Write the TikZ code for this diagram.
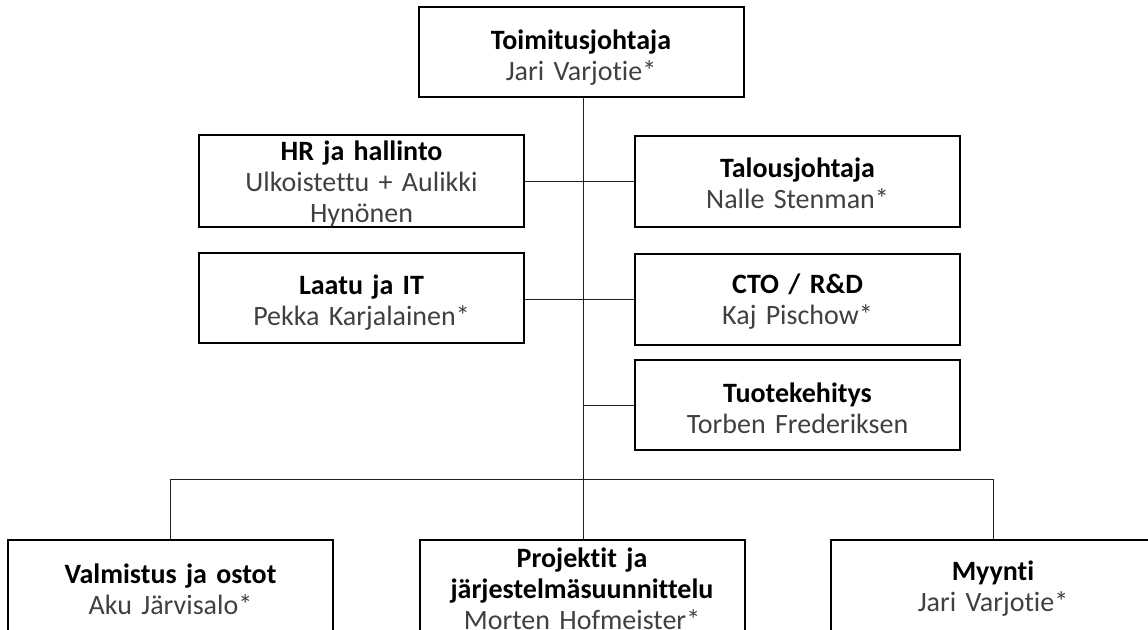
\documentclass[tikz,border=0pt]{standalone}
\usepackage{fontspec}
\setmainfont{Carlito}[Ligatures={NoCommon,NoContextual}]
\definecolor{nametext}{HTML}{404040}
\definecolor{linecol}{HTML}{202020}
\begin{document}
\begin{tikzpicture}[x=1pt,y=-1pt,
  orgbox/.style={draw=black,line width=2pt,rectangle,inner sep=0pt,
    minimum width=325pt,minimum height=91pt,text width=320pt,align=center,
    font=\fontsize{28}{31}\selectfont},
  conn/.style={draw=linecol,line width=1pt}]
\clip (0,0) rectangle (1148,629);
\useasboundingbox (0,0) rectangle (1148,629);
\newcommand{\ttl}[1]{\textbf{#1}}
\newcommand{\nm}[1]{\textcolor{nametext}{#1}}
\newcommand{\lift}[1]{\rule{0pt}{#1}}
\node[orgbox,minimum height=90pt] (ceo) at (581,52) {\lift{30pt}\ttl{Toimitusjohtaja}\\\nm{Jari Varjotie*}};
\node[orgbox] (hr) at (361.5,181) {\lift{26pt}\ttl{HR ja hallinto}\\\nm{Ulkoistettu + Aulikki}\\\nm{Hynönen}};
\node[orgbox] (cfo) at (797.5,181) {\lift{24pt}\ttl{Talousjohtaja}\\\nm{Nalle Stenman*}};
\node[orgbox,minimum height=90pt] (qa) at (361.5,298) {\lift{29pt}\ttl{Laatu ja IT}\\\nm{Pekka Karjalainen*}};
\node[orgbox] (cto) at (797.5,299) {\lift{24pt}\ttl{CTO / R\&D}\\\nm{Kaj Pischow*}};
\node[orgbox,minimum height=90pt] (rd) at (797.5,405) {\lift{26pt}\ttl{Tuotekehitys}\\\nm{Torben Frederiksen}};
\node[orgbox,minimum height=98pt,anchor=north] (prod) at (170.5,539) {\ttl{Valmistus ja ostot}\\\nm{Aku Järvisalo*}};
\node[orgbox,minimum height=98pt,anchor=north] (proj) at (582,539) {\ttl{Projektit ja}\\\ttl{järjestelmäsuunnittelu}\\\nm{Morten Hofmeister*}};
\node[orgbox,minimum height=98pt,anchor=north] (sales) at (993,539) {\ttl{Myynti}\\\nm{Jari Varjotie*}};
\coordinate (spine) at (583,0);
\coordinate (bus) at (0,479);
\draw[conn] (ceo.south -| spine) -- (proj.north -| spine);
\draw[conn] (hr.east) -- (hr.east -| cfo.west);
\draw[conn] (cto.west -| qa.east) -- (cto.west);
\draw[conn] (rd.west) -- (rd.west -| spine);
\draw[conn] (prod.north) -- (prod.north |- bus) -- (sales.north |- bus) -- (sales.north);
\end{tikzpicture}
\end{document}
